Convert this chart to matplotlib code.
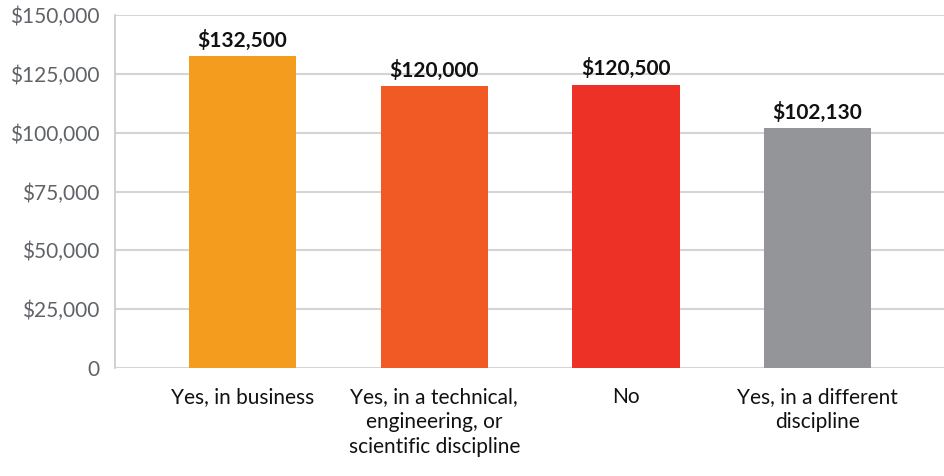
import matplotlib.pyplot as plt
from matplotlib.ticker import FuncFormatter

plt.rcParams['font.family'] = ['Lato', 'DejaVu Sans']

# 学位ごとの給与中央値
categories = ['Yes, in business',
              'Yes, in a technical,\nengineering, or\nscientific discipline',
              'No',
              'Yes, in a different\ndiscipline']
salaries = [132500, 120000, 120500, 102130]
colors = ['#F39C1E', '#F15A25', '#EE3127', '#939598']
yticks = [0, 25000, 50000, 75000, 100000, 125000, 150000]

fig = plt.figure(figsize=(9.44, 4.76), dpi=100)
ax = fig.add_axes([0.122, 0.227, 0.878, 0.741])

x = range(len(categories))
ax.bar(x, salaries, width=0.56, color=colors, zorder=3)

for xi, v in zip(x, salaries):
    ax.text(xi, v + 2200, f'${v:,.0f}', ha='center', va='bottom',
            fontsize=15, fontweight='bold', color='#111111')

ax.set_xlim(-0.665, 3.66)
ax.set_ylim(0, 150000)
ax.set_yticks(yticks)
ax.yaxis.set_major_formatter(FuncFormatter(lambda v, p: '0' if v == 0 else f'${v:,.0f}'))
ax.set_xticks(list(x))
ax.set_xticklabels(categories, fontsize=15, color='#111111', linespacing=1.3)

ax.grid(axis='y', color='#d4d4d4', linewidth=1.5, zorder=0)
for s in ['top', 'right', 'bottom']:
    ax.spines[s].set_visible(False)
ax.spines['left'].set_color('#c8c8c8')
ax.spines['left'].set_linewidth(1.2)
ax.tick_params(axis='y', length=0, pad=11, labelsize=15, labelcolor='#5f6368')
ax.tick_params(axis='x', length=0, pad=14)

fig.savefig('out.png', dpi=100)
